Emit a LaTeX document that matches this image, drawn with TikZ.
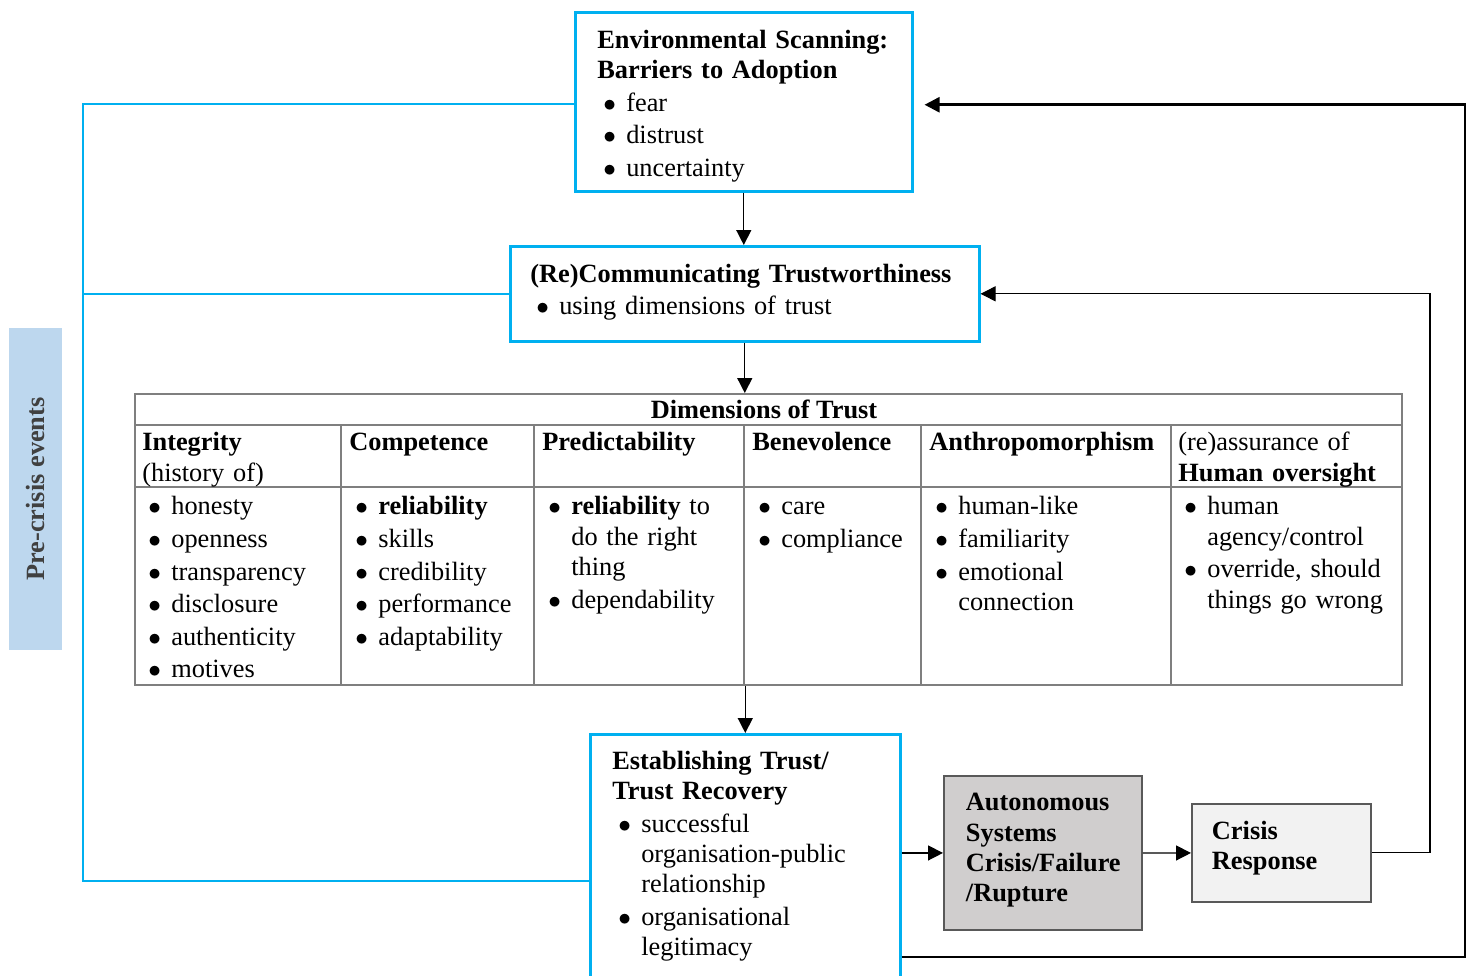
\documentclass[tikz,border=0pt]{standalone}
\usepackage{fontspec}
\setmainfont{Liberation Serif}
\usetikzlibrary{arrows.meta}
\definecolor{scanblue}{HTML}{00B0F0}
\definecolor{cellgray}{HTML}{7F7F7F}
\definecolor{crisisgray}{HTML}{D0CECE}
\definecolor{responsegray}{HTML}{F2F2F2}
\definecolor{edgegray}{HTML}{595959}
\definecolor{phaseblue}{HTML}{BDD7EE}
\definecolor{phasetext}{HTML}{404040}
% bullet item with hanging indent
\newcommand{\bpt}[1]{\par\addvspace{1.25pt}\hangindent=0.58cm\hangafter=1\noindent
    \hspace*{0.12cm}\makebox[0.46cm][l]{$\bullet$}\strut#1\par}

\begin{document}
\begin{tikzpicture}[x=0.02cm, y=-0.02cm,
    every node/.style={font=\fontsize{15}{17.3}\selectfont},
    bluebox/.style={draw=scanblue, line width=1.5pt, anchor=north west, align=left, inner xsep=0pt},
    greybox/.style={draw=edgegray, line width=1.1pt, anchor=north west, align=left, inner xsep=0pt},
    cell/.style={anchor=north west, inner sep=0pt, align=left},
    flow/.style={-{Triangle[length=0.3cm, width=0.3cm]}, line width=0.8pt},
    feedback/.style={draw=scanblue, line width=1.2pt}]
    \clip (0,0) rectangle (1472,975);
    % Pre-crisis label
    \node[fill=phaseblue, rotate=90, minimum width=6.44cm, minimum height=1.06cm, inner sep=0pt, text=phasetext] (phase) at (35.5,489) {\bfseries Pre-crisis events};
    % Environmental scanning
    \node[bluebox, minimum width=6.74cm, minimum height=3.56cm, text width=5.86cm] (scan) at (574,11)
    {{\bfseries\rule{0pt}{17pt}Environmental Scanning:\\ Barriers to Adoption}\bpt{fear}\bpt{distrust}\bpt{uncertainty}};
    % Communicating trustworthiness
    \node[bluebox, minimum width=9.38cm, minimum height=1.9cm, text width=8.58cm] (comm) at (509,245)
    {{\bfseries (Re)Communicating Trustworthiness}\bpt{using dimensions of trust}};
    % Dimensions of trust table
    \node[draw=cellgray, line width=1.1pt, anchor=north west, minimum width=25.34cm, minimum height=5.82cm, inner sep=0pt] (dims) at (134,393) {};
    \node[inner sep=0pt] (dimstitle) at (764,412) {\bfseries\strut Dimensions of Trust};
    \draw[cellgray, line width=1.1pt] (134,425) -- (1401,425) (134,487) -- (1401,487);
    \foreach \x in {341,534,744,921,1171}
        \draw[cellgray, line width=1.1pt] (\x,425) -- (\x,684);
    % column headings
    \node[cell, text width=3.8cm] (hint) at (142,429) {\strut\bfseries Integrity\\\mdseries (history of)};
    \node[cell, text width=3.6cm] (hcom) at (349,429) {\strut\bfseries Competence};
    \node[cell, text width=3.9cm] (hpre) at (542,429) {\strut\bfseries Predictability};
    \node[cell, text width=3.3cm] (hben) at (752,429) {\strut\bfseries Benevolence};
    \node[cell, text width=4.7cm] (hant) at (929,429) {\strut\bfseries Anthropomorphism};
    \node[cell, text width=4.4cm] (hhum) at (1178,429) {\strut(re)assurance of\\\textbf{Human oversight}};
    % column contents
    \node[cell, text width=3.8cm] (bint) at (142,482)
    {\bpt{honesty}\bpt{openness}\bpt{transparency}\bpt{disclosure}\bpt{authenticity}\bpt{motives}};
    \node[cell, text width=3.6cm] (bcom) at (349,482)
    {\bpt{\textbf{reliability}}\bpt{skills}\bpt{credibility}\bpt{performance}\bpt{adaptability}};
    \node[cell, text width=3.9cm] (bpre) at (542,482)
    {\bpt{\textbf{reliability} to\newline do the right\newline thing}\bpt{dependability}};
    \node[cell, text width=3.3cm] (bben) at (752,482) {\bpt{care}\bpt{compliance}};
    \node[cell, text width=4.7cm] (bant) at (929,482)
    {\bpt{human-like}\bpt{familiarity}\bpt{emotional\newline connection}};
    \node[cell, text width=4.4cm] (bhum) at (1178,482)
    {\bpt{human\newline agency/control}\bpt{override, should\newline things go wrong}};
    % Establishing trust
    \node[bluebox, minimum width=6.2cm, minimum height=4.88cm, text width=5.32cm] (trust) at (589,733)
    {{\bfseries Establishing Trust/\\ Trust Recovery}\bpt{successful\newline organisation-public\newline relationship}\bpt{organisational\newline legitimacy}};
    % Crisis and response
    \node[greybox, fill=crisisgray, minimum width=3.96cm, minimum height=3.08cm, text width=3.08cm] (fail) at (943,775)
    {\bfseries Autonomous\\ Systems\\ Crisis/Failure\\ /Rupture\rule[-6.1pt]{0pt}{0pt}};
    \node[greybox, fill=responsegray, minimum width=3.58cm, minimum height=1.96cm, text width=2.78cm] (resp) at (1191,803)
    {\bfseries Crisis\\ Response\rule[-8.4pt]{0pt}{0pt}};
    % downward flow
    \draw[flow] (scan.south) -- (scan.south |- comm.north);
    \draw[flow] (comm.south) -- (comm.south |- dims.north);
    \draw[flow] (trust.north |- dims.south) -- (trust.north);
    \draw[flow] (trust.east |- fail.west) -- (fail.west);
    \draw[flow] (fail.east) -- (resp.west);
    % loops back up
    \coordinate (rbend) at (1430,854);
    \draw[flow, line width=0.6pt] (resp.east) -| (rbend |- comm.east) -- (comm.east);
    \coordinate (obend) at (1465,957);
    \draw[flow, line width=1.6pt] (trust.east |- obend) -- (obend) |- ([shift={(0.22cm,-0.06cm)}]scan.east);
    % pre-crisis links
    \coordinate (lbend) at (83,881);
    \draw[feedback] ([yshift=-0.04cm]scan.west) -| (lbend) -- (lbend -| trust.west);
    \draw[feedback] (comm.west) -- (comm.west -| lbend);
\end{tikzpicture}
\end{document}
